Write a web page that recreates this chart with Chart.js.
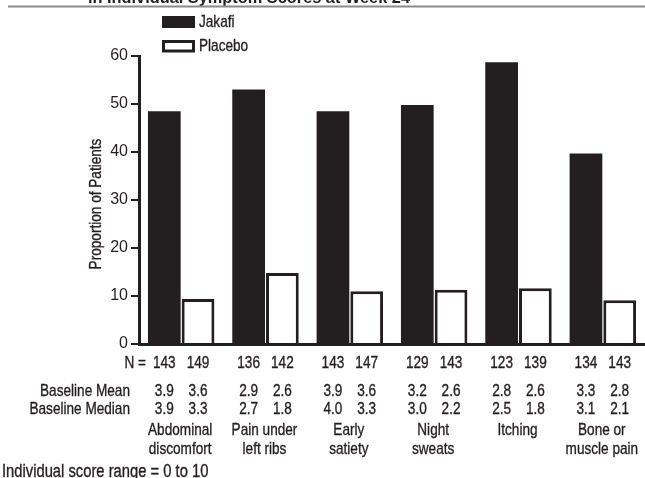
<!DOCTYPE html>
<html>
<head>
<meta charset="utf-8">
<script src="https://cdn.jsdelivr.net/npm/chart.js@4.4.1/dist/chart.umd.min.js"></script>
<style>
  html, body { margin: 0; padding: 0; background: #fff; }
  #wrap { width: 645px; height: 478px; position: relative; }
</style>
</head>
<body>
<div id="wrap"><canvas id="chart"></canvas></div>
<script>
// --- Data ---
const symptoms = [
  ["Abdominal", "discomfort"],
  ["Pain under", "left ribs"],
  ["Early", "satiety"],
  ["Night", "sweats"],
  ["Itching"],
  ["Bone or", "muscle pain"]
];
const jakafiPct = [48.5, 53.0, 48.5, 49.8, 58.7, 39.7];
const placeboPct = [9.4, 14.8, 11.0, 11.3, 11.6, 9.1];

const nJakafi = [143, 136, 143, 129, 123, 134];
const nPlacebo = [149, 142, 147, 143, 139, 143];
const meanJakafi = ["3.9", "2.9", "3.9", "3.2", "2.8", "3.3"];
const meanPlacebo = ["3.6", "2.6", "3.6", "2.6", "2.6", "2.8"];
const medianJakafi = ["3.9", "2.7", "4.0", "3.0", "2.5", "3.1"];
const medianPlacebo = ["3.3", "1.8", "3.3", "2.2", "1.8", "2.1"];

const titleText = "in Individual Symptom Scores at Week 24";
const yTitle = "Proportion of Patients";
const footnote = "Individual score range = 0 to 10";

const INK = "#231f20";
const FONT = '"Liberation Sans", Arial, sans-serif';
let SX = 0.8; // squeeze to look like a condensed face

// condensed text helper, lightly stroked so it is not too thin
function txt(ctx, s, x, y, align) {
  const w = ctx.measureText(s).width * SX;
  let off = 0;
  if (align === "center") off = -w / 2;
  else if (align === "right") off = -w;
  ctx.save();
  ctx.translate(x + off, y);
  ctx.scale(SX, 1);
  ctx.textAlign = "left";
  ctx.fillText(s, 0, 0);
  ctx.strokeStyle = INK;
  ctx.lineWidth = 0.35;
  ctx.strokeText(s, 0, 0);
  ctx.restore();
}

// draws the table under the axis, legend, cut-off title and footnote
const annotations = {
  id: "annotations",
  afterDraw(chart) {
    const ctx = chart.ctx;
    const x = chart.scales.x;
    const y = chart.scales.y;
    const jMeta = chart.getDatasetMeta(0).data;
    const pMeta = chart.getDatasetMeta(1).data;
    ctx.save();
    ctx.fillStyle = INK;

    // title (only its lower part shows) and rule
    ctx.font = "bold 17px " + FONT;
    ctx.textBaseline = "alphabetic";
    const tw = ctx.measureText(titleText).width;
    ctx.save();
    ctx.translate(88, 3);
    ctx.scale(322 / tw, 1);
    ctx.fillText(titleText, 0, 0);
    ctx.restore();
    ctx.strokeStyle = "#8a8a8a";
    ctx.lineWidth = 2.2;
    ctx.beginPath();
    ctx.moveTo(8, 6.5);
    ctx.lineTo(645, 6.5);
    ctx.stroke();

    ctx.font = "17px " + FONT;
    ctx.textBaseline = "middle";

    // legend
    ctx.fillRect(162, 16, 33, 12);
    ctx.strokeStyle = INK;
    ctx.lineWidth = 3;
    ctx.strokeRect(163.5, 41.5, 30, 9.5);
    txt(ctx, chart.data.datasets[0].label, 199, 22, "left");
    txt(ctx, chart.data.datasets[1].label, 199, 46.5, "left");

    // y axis title
    ctx.save();
    ctx.translate(96, (y.top + y.bottom) / 2 + 4);
    ctx.rotate(-Math.PI / 2);
    txt(ctx, yTitle, 0, 0, "center");
    ctx.restore();

    // row headers
    txt(ctx, "N =", 146, 363, "right");
    txt(ctx, "Baseline Mean", 130, 391, "right");
    txt(ctx, "Baseline Median", 130, 409.5, "right");

    // per-bar values and category names
    symptoms.forEach((lab, i) => {
      const jx = jMeta[i].x, px = pMeta[i].x;
      txt(ctx, String(nJakafi[i]), jx, 363, "center");
      txt(ctx, String(nPlacebo[i]), px, 363, "center");
      txt(ctx, meanJakafi[i], jx, 391, "center");
      txt(ctx, meanPlacebo[i], px, 391, "center");
      txt(ctx, medianJakafi[i], jx, 409.5, "center");
      txt(ctx, medianPlacebo[i], px, 409.5, "center");
      const cx = x.getPixelForValue(i) - 1;
      lab.forEach((line, k) => txt(ctx, line, cx, 430 + k * 19.5, "center"));
    });

    // footnote, set slightly larger
    ctx.font = "18px " + FONT;
    SX = 0.82;
    txt(ctx, footnote, 2, 472, "left");
    SX = 0.8;
    ctx.restore();
  }
};

window.addEventListener("load", function () {
  const ctx = document.getElementById("chart").getContext("2d");
  new Chart(ctx, {
    type: "bar",
    data: {
      labels: symptoms.map(s => s.join(" ")),
      datasets: [
        {
          label: "Jakafi",
          data: jakafiPct,
          backgroundColor: INK,
          borderColor: INK,
          borderWidth: 0
        },
        {
          label: "Placebo",
          data: placeboPct,
          backgroundColor: "#ffffff",
          borderColor: INK,
          borderWidth: 3
        }
      ]
    },
    options: {
      responsive: true,
      maintainAspectRatio: false,
      animation: false,
      layout: { padding: { top: 56, left: 0, right: 0, bottom: 134 } },
      categoryPercentage: 0.8,
      barPercentage: 0.97,
      plugins: {
        legend: { display: false },
        tooltip: { enabled: false }
      },
      scales: {
        x: {
          grid: { display: false },
          ticks: { display: false },
          border: { display: true, color: INK, width: 3 },
          afterFit: (s) => { s.height = 0; }
        },
        y: {
          min: 0,
          max: 60,
          ticks: {
            stepSize: 10,
            padding: 3,
            color: INK,
            font: { family: FONT, size: 16 }
          },
          grid: {
            display: true,
            drawOnChartArea: false,
            drawTicks: true,
            tickLength: 8,
            color: INK,
            lineWidth: 2
          },
          border: { display: true, color: INK, width: 3 },
          afterFit: (s) => { s.width = 139; }
        }
      }
    },
    plugins: [annotations]
  });
});
</script>
</body>
</html>
